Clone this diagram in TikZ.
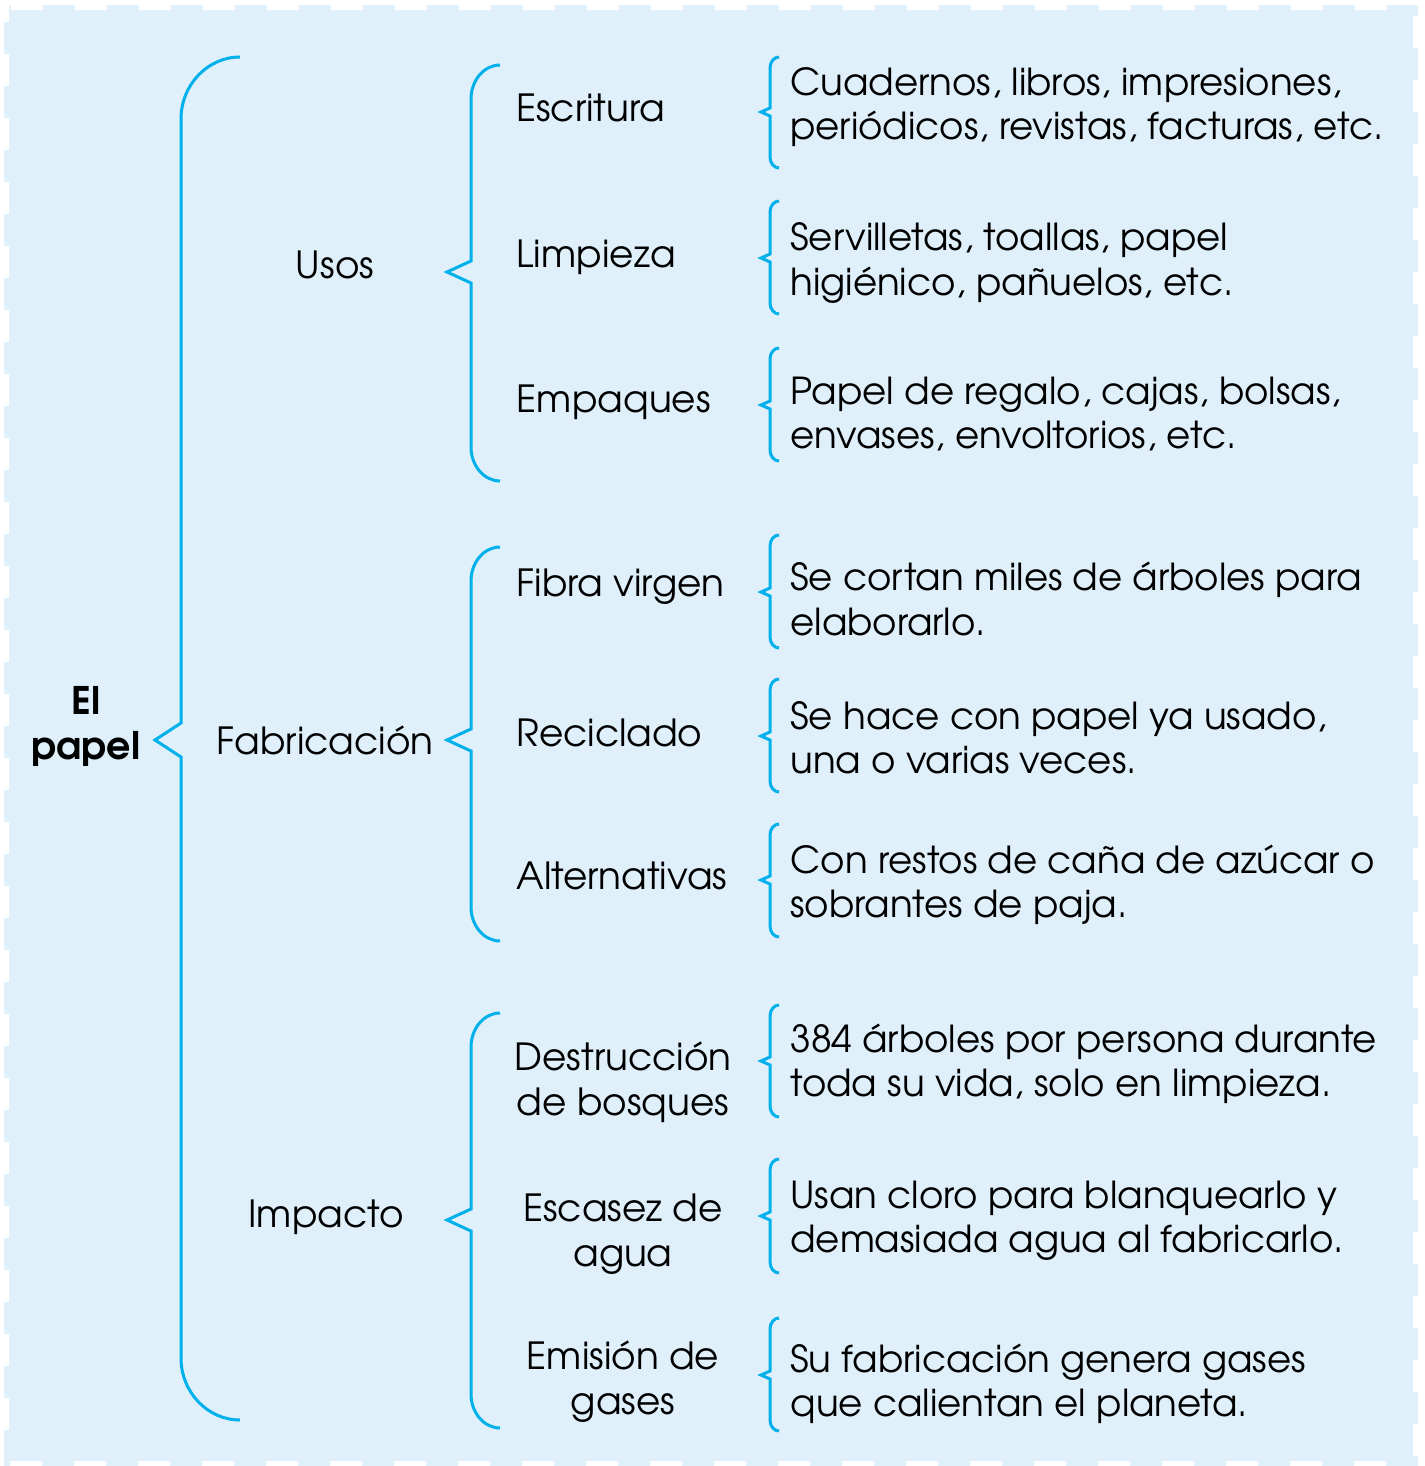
\documentclass[tikz,border=0pt]{standalone}
\usepackage{fontspec}
\setmainfont{texgyreadventor}[Extension=.otf,UprightFont=*-regular,BoldFont=*-bold]
\usetikzlibrary{positioning}
\definecolor{fondoazul}{HTML}{DFF0FB}
\definecolor{llaveazul}{HTML}{00B0EA}
\tikzset{
  llave/.style={draw=llaveazul,line width=1.5pt,line join=miter},
  raiz/.style={font=\fontsize{19}{22.5}\selectfont\bfseries,align=center,inner sep=0pt},
  rama/.style={font=\fontsize{18.7}{22.4}\selectfont,align=center,inner sep=0pt},
  tema/.style={font=\fontsize{18.7}{22.4}\selectfont,align=left,inner sep=0pt,anchor=west},
  hoja/.style={font=\fontsize{18.6}{22.2}\selectfont,align=left,inner sep=0pt,anchor=west},
}
% #1 x line, #2 x end, #3 x tip, #4 y top, #5 y tip, #6 y bottom, #7 radius, #8 kink
\newcommand{\llave}[8]{%
  \draw[llave] (#2,#4) .. controls ({#1+0.45*(#2-#1)},#4) and (#1,{#4+0.45*#7}) .. (#1,{#4+#7})
    -- (#1,{#5-#8}) -- (#3,#5) -- (#1,{#5+#8}) -- (#1,{#6-#7})
    .. controls (#1,{#6-0.45*#7}) and ({#1+0.45*(#2-#1)},#6) .. (#2,#6);}

\begin{document}
\begin{tikzpicture}[x=0.5pt,y=-0.5pt]
  \useasboundingbox (0,0) rectangle (1424,1466);
  % fondo
  \fill[fondoazul] (9,10) rectangle (1413,1461);
  \draw[fondoazul,line width=5pt,dash pattern=on 16pt off 16pt,dash phase=-6pt] (9,10) rectangle (1413,1461);

  % raiz y ramas
  \node[raiz] (papel) at (86,726) {El\\papel};
  \node[rama] (usos) at (335,265) {Usos};
  \node[rama] (fab) at (325,740) {Fabricación};
  \node[rama] (imp) at (326,1217) {Impacto};

  % temas
  \node[tema] (escr) at (516,108) {Escritura};
  \node[tema] (limp) at (516,257) {Limpieza};
  \node[tema] (empa) at (516,402) {Empaques};
  \node[tema] (fibra) at (516,587) {Fibra virgen};
  \node[tema] (recic) at (516,733) {Reciclado};
  \node[tema] (alter) at (516,876) {Alternativas};
  \node[rama] (destr) at (623,1082) {Destrucción\\de bosques};
  \node[rama] (escas) at (623,1234) {Escasez de\\agua};
  \node[rama] (emis) at (623,1382) {Emisión de\\gases};

  % hojas
  \node[hoja] (h-escr) at (790,107) {Cuadernos, libros, impresiones,\\periódicos, revistas, facturas, etc.};
  \node[hoja] (h-limp) at (790,263) {Servilletas, toallas, papel\\higiénico, pañuelos, etc.};
  \node[hoja] (h-empa) at (790,414) {Papel de regalo, cajas, bolsas,\\envases, envoltorios, etc.};
  \node[hoja] (h-fibra) at (790,599) {Se cortan miles de árboles para\\elaborarlo.};
  \node[hoja] (h-recic) at (790,738) {Se hace con papel ya usado,\\una o varias veces.};
  \node[hoja] (h-alter) at (790,885) {Con restos de caña de azúcar o\\sobrantes de paja.};
  \node[hoja] (h-destr) at (790,1064) {384 árboles por persona durante\\toda su vida, solo en limpieza.};
  \node[hoja] (h-escas) at (790,1221) {Usan cloro para blanquearlo y\\demasiada agua al fabricarlo.};
  \node[hoja] (h-emis) at (790,1384) {Su fabricación genera gases\\que calientan el planeta.};

  % llaves
  \llave{181}{240}{155}{57}{740}{1420}{62}{17}
  \llave{471}{500}{447}{65}{272}{481}{34}{11}
  \llave{471}{500}{447}{547}{740}{941}{34}{11}
  \llave{471}{500}{447}{1013}{1220}{1428}{34}{11}
  \llave{770}{779}{761}{57}{112}{168}{11}{4}
  \llave{770}{779}{761}{201}{258}{314}{11}{4}
  \llave{770}{779}{761}{348}{405}{461}{11}{4}
  \llave{770}{779}{761}{535}{592}{648}{11}{4}
  \llave{770}{779}{761}{679}{736}{792}{11}{4}
  \llave{770}{779}{761}{824}{880}{937}{11}{4}
  \llave{770}{779}{761}{1005}{1061}{1117}{11}{4}
  \llave{770}{779}{761}{1159}{1216}{1273}{11}{4}
  \llave{770}{779}{761}{1318}{1375}{1431}{11}{4}
\end{tikzpicture}
\end{document}
